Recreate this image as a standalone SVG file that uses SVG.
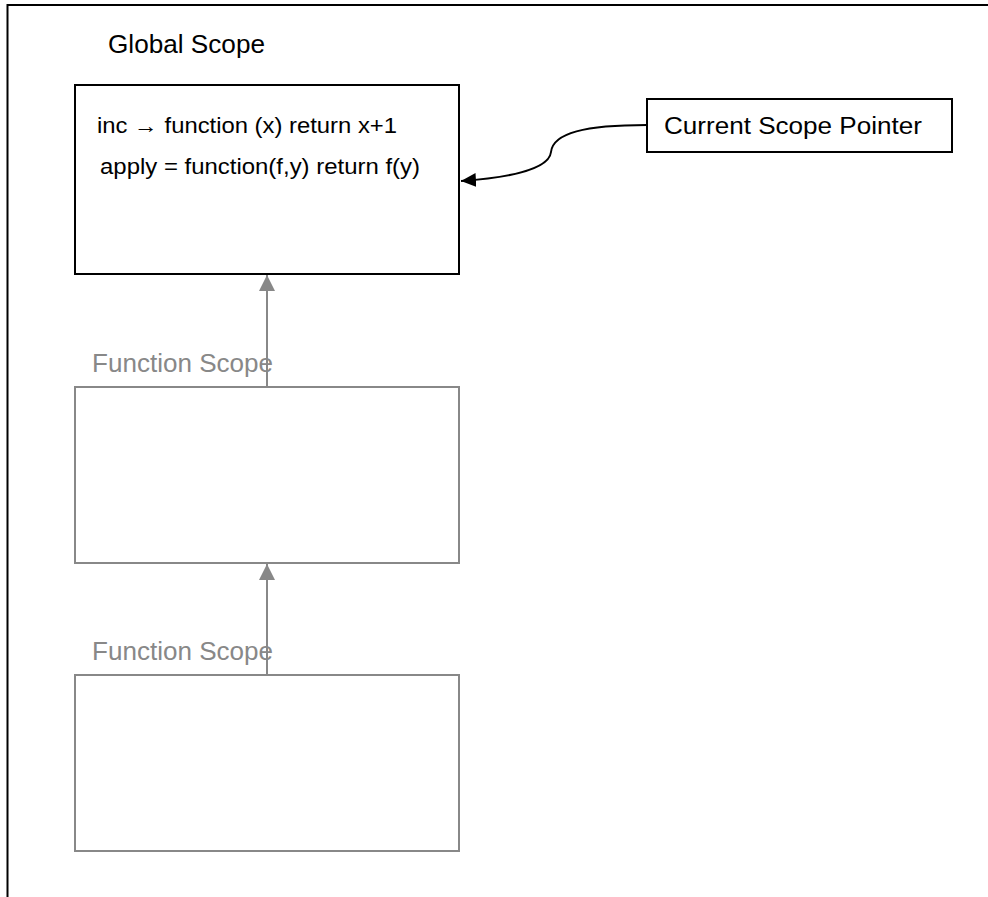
<svg xmlns="http://www.w3.org/2000/svg" width="988" height="897" viewBox="0 0 988 897">
  <style>
    .title { font-family: "Liberation Sans", Arial, sans-serif; font-size: 25px; }
    .code { font-family: "Liberation Sans", Arial, sans-serif; font-size: 22px; fill: #000; }
    .label { font-family: "Liberation Sans", Arial, sans-serif; font-size: 23px; fill: #000; }
    .scope { fill: #fff; stroke: #000; stroke-width: 2; }
    .scope-dim { fill: #fff; stroke: #888; stroke-width: 2; }
    .dim-text { fill: #888; }
    .link-dim { fill: none; stroke: #888; stroke-width: 2; }
    .link { fill: none; stroke: #000; stroke-width: 2; }
  </style>
  <defs>
    <marker id="arrow-gray" viewBox="0 0 16 16" refX="16" refY="8" markerWidth="16" markerHeight="16" markerUnits="userSpaceOnUse" orient="auto">
      <path d="M0,0 L16,8 L0,16 Z" fill="#888"/>
    </marker>
    <marker id="arrow-black" viewBox="0 0 15 14" refX="15" refY="7" markerWidth="15" markerHeight="14" markerUnits="userSpaceOnUse" orient="auto">
      <path d="M0,0 L15,7 L0,14 Z" fill="#000"/>
    </marker>
  </defs>

  <rect width="988" height="897" fill="#fff"/>
  <!-- page frame, open to the right and bottom -->
  <rect x="7.5" y="5" width="1000" height="1000" fill="none" stroke="#000" stroke-width="2"/>

  <g id="global-scope">
    <text class="title" x="108" y="53" textLength="157" lengthAdjust="spacingAndGlyphs">Global Scope</text>
    <rect class="scope" x="75" y="85" width="384" height="189"/>
    <text class="code" x="97" y="133" textLength="300" lengthAdjust="spacingAndGlyphs">inc → function (x) return x+1</text>
    <text class="code" x="100" y="174" textLength="320" lengthAdjust="spacingAndGlyphs">apply = function(f,y) return f(y)</text>
  </g>

  <g id="current-scope-pointer">
    <rect class="scope" x="647" y="99" width="305" height="53"/>
    <text class="label" x="664" y="134" textLength="258" lengthAdjust="spacingAndGlyphs">Current Scope Pointer</text>
  </g>

  <g id="function-scope-1">
    <text class="title dim-text" x="92" y="372" textLength="181" lengthAdjust="spacingAndGlyphs">Function Scope</text>
    <rect class="scope-dim" x="75" y="387" width="384" height="176"/>
  </g>

  <g id="function-scope-2">
    <text class="title dim-text" x="92" y="660" textLength="181" lengthAdjust="spacingAndGlyphs">Function Scope</text>
    <rect class="scope-dim" x="75" y="675" width="384" height="176"/>
  </g>

  <g id="connectors">
    <path class="link-dim" d="M267,387 L267,275" marker-end="url(#arrow-gray)"/>
    <path class="link-dim" d="M267,675 L267,564" marker-end="url(#arrow-gray)"/>
    <path class="link" d="M647,125 C585,125 553,133 551,152 C549,170 505,178 461,181" marker-end="url(#arrow-black)"/>
  </g>
</svg>
